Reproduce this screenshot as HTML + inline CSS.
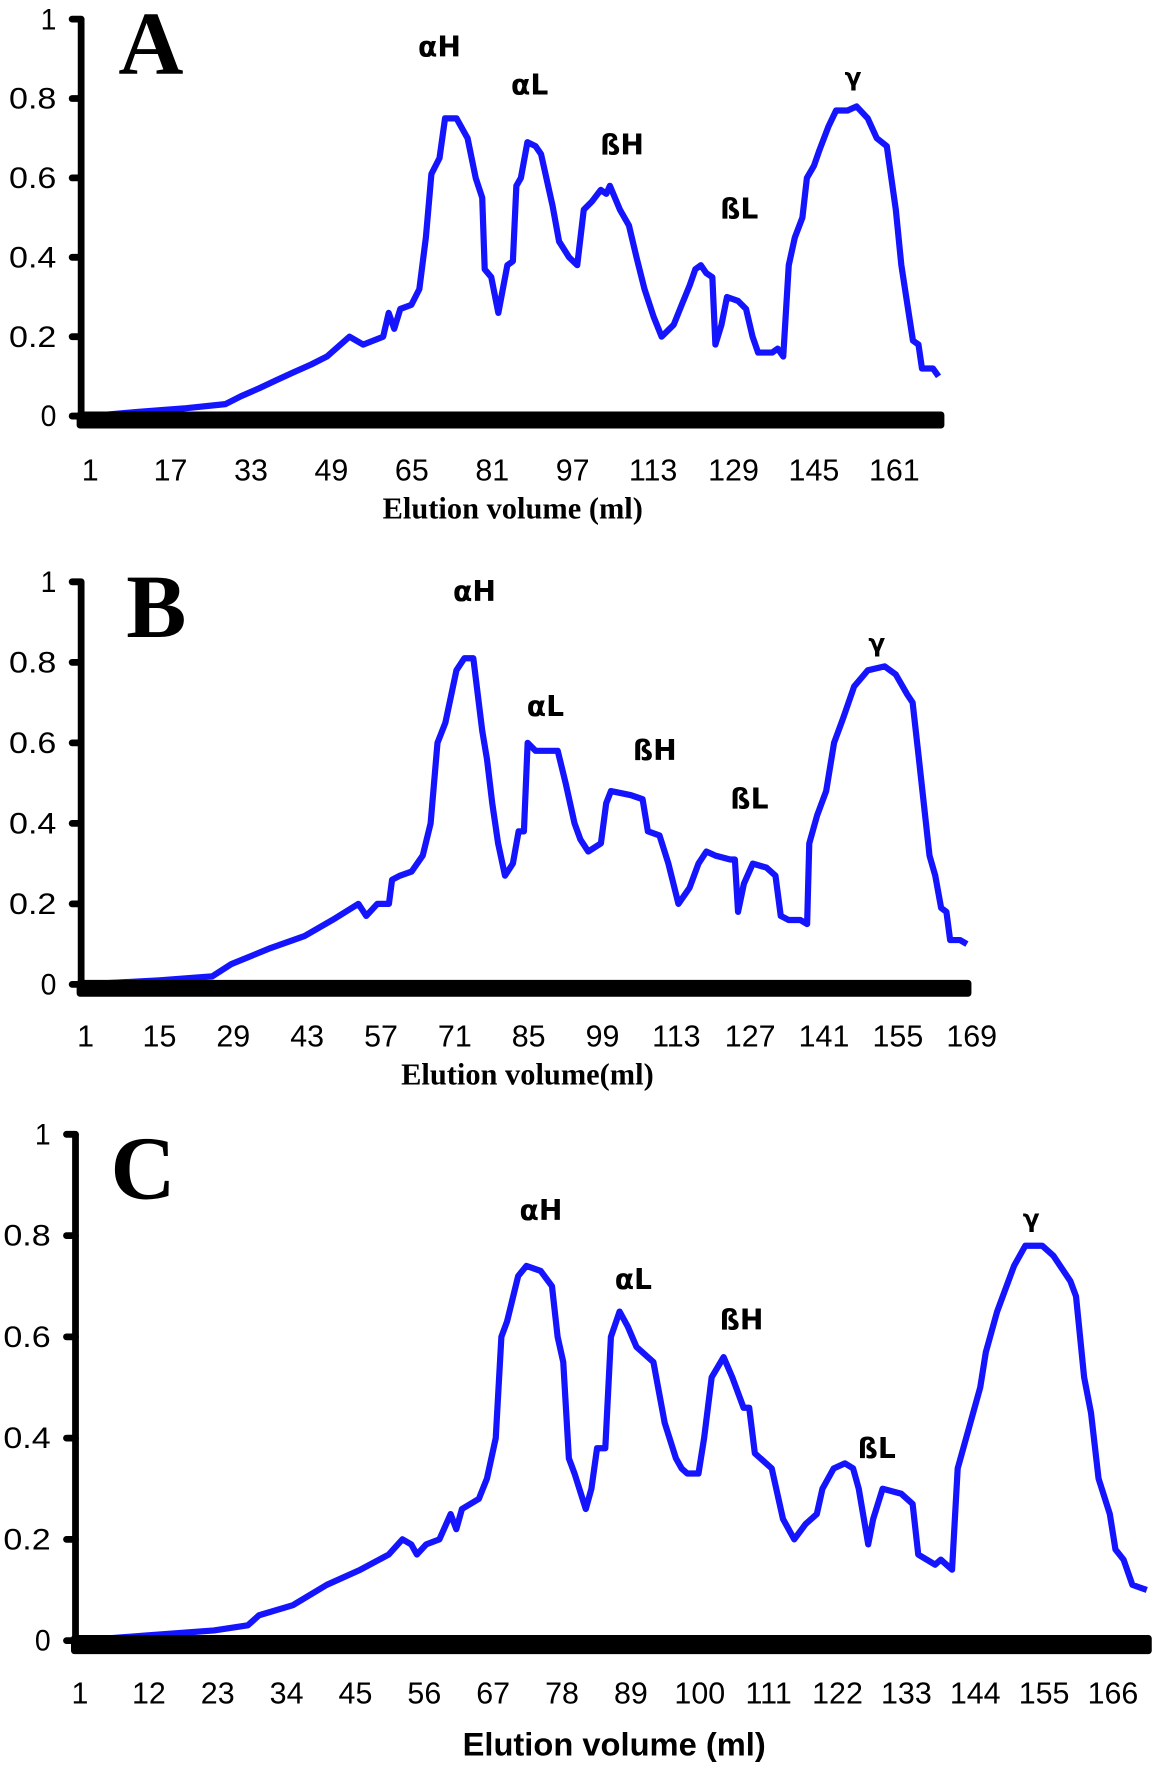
<!DOCTYPE html>
<html><head><meta charset="utf-8"><style>
html,body{margin:0;padding:0;background:#fff;}
svg{display:block;}
</style></head><body>
<svg id="fig" width="1154" height="1768" viewBox="0 0 1024 1568" preserveAspectRatio="none" xmlns="http://www.w3.org/2000/svg"></svg>
<script>
// Panel A data
const mlA = [1,10,20.1,27.9,31,34.6,38,41.4,45,48.1,52.6,55.3,59.3,60.4,61.5,62.7,64.9,66.5,67.8,68.9,70.5,71.6,73.9,76.1,77.7,79,79.5,80.8,82.2,84,85.1,85.8,86.7,88,89.6,90.7,93,94.3,96.3,97.9,99.2,100.8,102.6,103.7,104.4,106.4,108.2,109.7,111.3,113.1,114.7,117.1,118.7,120.3,121.4,122.5,123.6,124.8,125.4,126.6,127.7,129.9,131.5,132.8,133.9,136.7,137.8,138.9,140,141.2,142.7,143.6,145,146.1,147.9,149.4,151.7,153.5,155.7,157.5,159.5,161.3,162.4,163.6,164.7,165.8,166.5,168.7,169.8];
const valA = [0,0.01,0.02,0.03,0.05,0.07,0.09,0.11,0.13,0.15,0.2,0.18,0.2,0.26,0.22,0.27,0.28,0.32,0.45,0.61,0.65,0.75,0.75,0.7,0.6,0.55,0.37,0.35,0.26,0.38,0.39,0.58,0.6,0.69,0.68,0.66,0.53,0.44,0.4,0.38,0.52,0.54,0.57,0.56,0.58,0.52,0.48,0.4,0.32,0.25,0.2,0.23,0.28,0.33,0.37,0.38,0.36,0.35,0.18,0.23,0.3,0.29,0.27,0.2,0.16,0.16,0.17,0.15,0.38,0.45,0.5,0.6,0.63,0.67,0.73,0.77,0.77,0.78,0.75,0.7,0.68,0.52,0.38,0.28,0.19,0.18,0.12,0.12,0.1];
const ticksA = [1,17,33,49,65,81,97,113,129,145,161];
// Panel B data
const mlB = [1,15,25,28.6,36,42.5,47.8,52.7,54.2,56.3,58.5,59.1,60.6,62.8,64.9,66.4,67.7,69.2,71.3,72.8,74.5,76.2,77.1,78.1,79.2,80.5,82,83.1,84.1,84.8,86.3,90.5,92,93.7,94.8,96.3,98.7,99.7,100.6,104.4,106.6,107.6,109.8,111.5,113.4,115.5,117.2,118.7,120.4,123.2,124.1,124.7,125.8,127.5,130.1,131.8,132.8,134.3,136.5,137.8,138.2,139.7,141.4,142.9,144.6,146.7,149.3,152.5,154.6,156.8,157.8,158.9,159.9,161,162.1,163.2,164.2,164.9,166.8,168.1];
const valB = [0,0.01,0.02,0.05,0.09,0.12,0.16,0.2,0.17,0.2,0.2,0.26,0.27,0.28,0.32,0.4,0.6,0.65,0.78,0.81,0.81,0.63,0.56,0.45,0.35,0.27,0.3,0.38,0.38,0.6,0.58,0.58,0.5,0.4,0.36,0.33,0.35,0.45,0.48,0.47,0.46,0.38,0.37,0.3,0.2,0.24,0.3,0.33,0.32,0.31,0.31,0.18,0.25,0.3,0.29,0.27,0.17,0.16,0.16,0.15,0.35,0.42,0.48,0.6,0.66,0.74,0.78,0.79,0.77,0.72,0.7,0.57,0.45,0.32,0.27,0.19,0.18,0.11,0.11,0.1];
const ticksB = [1,15,29,43,57,71,85,99,113,127,141,155,169];
// Panel C data
const mlC = [1,11.6,22.4,27.8,29.6,35,40.4,45.8,50.3,52.5,53.9,54.8,56.3,58.4,60.2,61.1,62,64.7,66,67.4,68.3,69.2,71,72.3,74.6,76.4,77.3,78.2,79.1,80,81.8,82.7,83.6,84.9,85.8,87.2,88.5,89.9,92.6,94.4,96.2,97.1,98,99.8,100.7,101.9,103.8,105.2,107,107.9,108.8,111.5,113.3,115.1,116.9,118.7,119.6,121.4,123.2,124.5,125.4,126.9,127.7,129.2,132.2,134,134.9,137.6,138.5,140.3,141.2,143,144.8,145.7,147.5,150.2,152,154.7,156.5,159.2,160.1,161.4,162.5,163.7,165.5,166.4,167.7,169.1,171.4];
const valC = [0,0.01,0.02,0.03,0.05,0.07,0.11,0.14,0.17,0.2,0.19,0.17,0.19,0.2,0.25,0.22,0.26,0.28,0.32,0.4,0.6,0.63,0.72,0.74,0.73,0.7,0.6,0.55,0.36,0.33,0.26,0.3,0.38,0.38,0.6,0.65,0.62,0.58,0.55,0.43,0.36,0.34,0.33,0.33,0.4,0.52,0.56,0.52,0.46,0.46,0.37,0.34,0.24,0.2,0.23,0.25,0.3,0.34,0.35,0.34,0.3,0.19,0.24,0.3,0.29,0.27,0.17,0.15,0.16,0.14,0.34,0.42,0.5,0.57,0.65,0.74,0.78,0.78,0.76,0.71,0.68,0.52,0.45,0.32,0.25,0.18,0.16,0.11,0.1];
const ticksC = [1,12,23,34,45,56,67,78,89,100,111,122,133,144,155,166];
const yTicks = [0,0.2,0.4,0.6,0.8,1];
const yTickLabels = ["0","0.2","0.4","0.6","0.8","1"];
const peakNames = ["αH","αL","ßH","ßL","γ"];

const NS = "http://www.w3.org/2000/svg";
const svg = document.getElementById('fig');
function mk(tag, attrs, parent, text) {
  const e = document.createElementNS(NS, tag);
  for (const k in attrs) e.setAttribute(k, attrs[k]);
  if (text !== undefined) e.textContent = text;
  (parent || svg).appendChild(e);
  return e;
}

const panels = [
  {id:'a', letter:'A', ml:mlA, val:valA, ticks:ticksA, ax:72, y0:369, y1:17, x1ml:80, perMl:4.46, bandX0:68, bandX1:838, bandY:365, bandH:15, labY:426, titleY:460, titleX:455, serifTitle:true, letterX:105, letterY:65,
   peaks:[[390,50],[470,84],[552,137],[656,194],[757,76]]},
  {id:'b', letter:'B', ml:mlB, val:valB, ticks:ticksB, ax:72, y0:873, y1:516, x1ml:76, perMl:4.68, bandX0:68, bandX1:862, bandY:869, bandH:15, labY:928, titleY:962, titleX:468, serifTitle:true, letterX:112, letterY:565,
   peaks:[[421,533],[484,635],[581,674],[665,717],[778,578]]},
  {id:'c', letter:'C', ml:mlC, val:valC, ticks:ticksC, ax:67, y0:1455, y1:1006, x1ml:71, perMl:5.555, bandX0:63, bandX1:1022, bandY:1450, bandH:17, labY:1511, titleY:1557, titleX:545, serifTitle:false, letterX:98, letterY:1063,
   peaks:[[480,1082],[562,1143],[658,1179],[778,1293],[915,1088]]}
];

panels.forEach(p => {
  const g = mk('g', {});
  
  
  const xS = m => p.x1ml + (m - 1) * p.perMl;
  const yS = v => p.y0 - v * (p.y0 - p.y1);

  const ya = mk('line', {x1:p.ax, y1:p.y1, x2:p.ax, y2:p.y0+4, stroke:'#000', 'stroke-width':6}, g);
  
  
  yTicks.forEach((t, i) => {
    const tk = mk('line', {x1:p.ax-8, y1:yS(t), x2:p.ax, y2:yS(t), stroke:'#000', 'stroke-width':6, 'stroke-linecap':'round'}, g);
    
    
    const tl = mk('text', {x:p.ax-22, y:yS(t)+9, 'text-anchor':'end', 'font-family':'Liberation Sans, sans-serif', 'font-size':26, fill:'#000', textLength: yTickLabels[i].length>1?42:14, lengthAdjust:'spacingAndGlyphs'}, g, yTickLabels[i]);
    
    
  });

  let d = '';
  p.ml.forEach((m, i) => { d += (i ? 'L' : 'M') + xS(m).toFixed(1) + ',' + yS(p.val[i]).toFixed(1); });
  const ln = mk('path', {d:d, fill:'none', stroke:'#1414ff', 'stroke-width':5.5, 'stroke-linejoin':'round'}, g);
  
  

  const band = mk('rect', {x:p.bandX0, y:p.bandY, width:p.bandX1-p.bandX0, height:p.bandH, fill:'#000', rx:3}, g);
  
  

  p.ticks.forEach(t => {
    const tl = mk('text', {x:xS(t), y:p.labY, 'text-anchor':'middle', 'font-family':'Liberation Sans, sans-serif', 'font-size':27, fill:'#000'}, g, String(t));
    
    
  });

  const tt = mk('text', {x:p.titleX, y:p.titleY, 'text-anchor':'middle', 'font-family': p.serifTitle ? 'Liberation Serif, serif' : 'Liberation Sans, sans-serif', 'font-weight':'bold', 'font-size': p.serifTitle ? 27 : 29, fill:'#000'}, g, p.id==='b' ? 'Elution volume(ml)' : 'Elution volume (ml)');
  
  

  const lt = mk('text', {x:p.letterX, y:p.letterY, 'font-family':'Liberation Serif, serif', 'font-weight':'bold', 'font-size':80, fill:'#000'}, g, p.letter);
  
  

  p.peaks.forEach((pk, i) => {
    const pl = mk('text', {x:pk[0], y:pk[1], 'text-anchor':'middle', 'font-family':'DejaVu Sans, Liberation Sans, sans-serif', 'font-weight':'bold', 'font-size': i===4 ? 22 : 25, fill:'#000'}, g, peakNames[i]);
    
    
  });
});
</script>
</body></html>
